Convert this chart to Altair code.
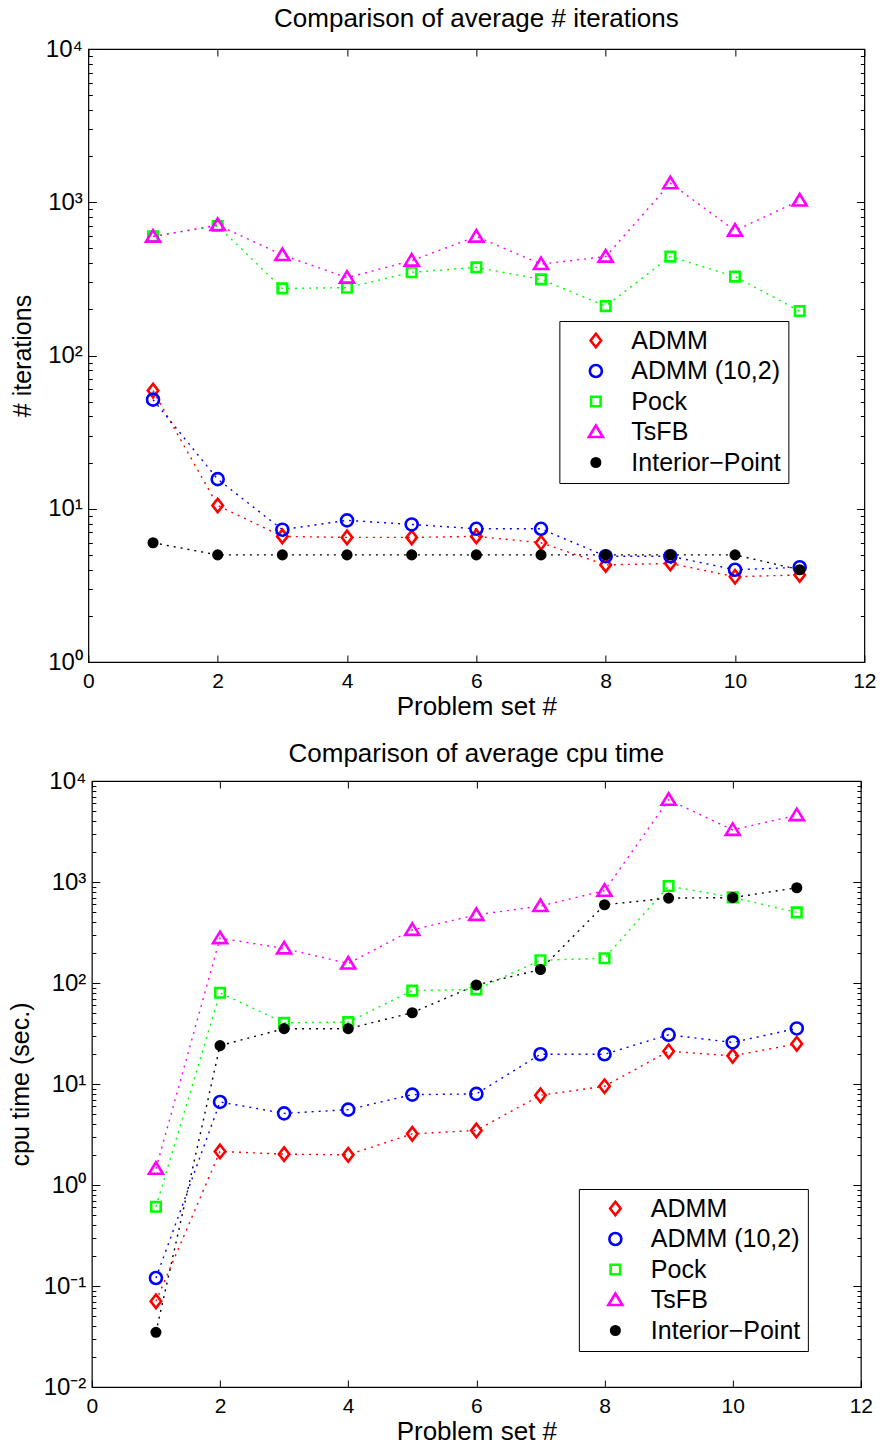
import math
import altair as alt
import pandas as pd

FONT = "Liberation Sans"

# ---------------- data ----------------
problem_set = [1, 2, 3, 4, 5, 6, 7, 8, 9, 10, 11]
series = ["ADMM", "ADMM (10,2)", "Pock", "TsFB", "Interior\u2212Point"]

iter_admm = [59, 10.5, 6.6, 6.5, 6.5, 6.6, 6.0, 4.3, 4.4, 3.6, 3.7]
iter_admm_10_2 = [51.5, 15.6, 7.3, 8.4, 7.9, 7.4, 7.4, 4.9, 4.9, 4.0, 4.15]
iter_pock = [600, 700, 274, 277, 349, 376, 314, 210, 442, 327, 195]
iter_tsfb = [597, 711, 453, 322, 416, 597, 395, 442, 1330, 653, 1026]
iter_ip = [6.0, 5.0, 5.0, 5.0, 5.0, 5.0, 5.0, 5.0, 5.0, 5.0, 4.0]

cpu_admm = [0.0706, 2.15, 2.02, 1.99, 3.21, 3.47, 7.73, 9.5, 21.1, 19.0, 25.0]
cpu_admm_10_2 = [0.12, 6.64, 5.12, 5.57, 7.85, 7.98, 19.7, 19.7, 30.7, 25.8, 35.5]
cpu_pock = [0.61, 80, 40.4, 41, 84, 86.5, 168, 176, 912, 705, 500]
cpu_tsfb = [1.45, 278, 220, 156, 336, 473, 578, 820, 6520, 3280, 4590]
cpu_ip = [0.0348, 24, 35.3, 35.3, 50.8, 95.5, 136, 595, 693, 700, 877]

x_ticks = [0, 2, 4, 6, 8, 10, 12]

# ---------------- styles ----------------
colors = ["#ff0000", "#0000ff", "#00ff00", "#ff00ff", "#000000"]
fills = ["transparent", "transparent", "transparent", "transparent", "#000000"]
shapes = [
    "M0,-1.35L1.05,0L0,1.35L-1.05,0Z",
    "M-1.2,0A1.2,1.2,0,1,0,1.2,0A1.2,1.2,0,1,0,-1.2,0Z",
    "M-0.95,-0.95L0.95,-0.95L0.95,0.95L-0.95,0.95Z",
    "M0,-1.3L1.4,1.0L-1.4,1.0Z",
    "M-0.85,0A0.85,0.85,0,1,0,0.85,0A0.85,0.85,0,1,0,-0.85,0Z",
]


def long_df(cols):
    rows = []
    for name, vals in zip(series, cols):
        for x, v in zip(problem_set, vals):
            rows.append({"x": x, "value": v, "series": name})
    return pd.DataFrame(rows)


IS_MAJOR = "abs(log(datum.value)/LN10 - round(log(datum.value)/LN10)) < 0.001"
SUP = "['\u207b\u00b2','\u207b\u00b9','\u2070','\u00b9','\u00b2','\u00b3','\u2074']"
Y_LABEL = f"{IS_MAJOR} ? '10' + {SUP}[round(log(datum.value)/LN10) + 2] : ''"
TICK_SIZE = {"condition": {"test": IS_MAJOR, "value": 8}, "value": 4}


def panel(df, title, ytitle, ymin, ymax, W, H, lx, ly, toff):
    e0 = round(math.log10(ymin))
    e1 = round(math.log10(ymax))
    yvals = [m * 10.0 ** e for e in range(e0, e1) for m in range(1, 10)] + [10.0 ** e1]
    xs = alt.Scale(domain=[0, 12], nice=False, zero=False)
    ys = alt.Scale(type="log", domain=[ymin, ymax], nice=False)
    # line colours: same mapping, domain listed in another order so that its
    # (hidden) legend is kept apart from the marker legend
    line_scale = alt.Scale(domain=series[::-1], range=colors[::-1])
    cscale = alt.Scale(domain=series, range=colors)
    fscale = alt.Scale(domain=series, range=fills)
    sscale = alt.Scale(domain=series, range=shapes)
    leg = alt.Legend(
        title=None, orient="none", legendX=lx, legendY=ly,
        labelFontSize=25, labelFont=FONT, labelColor="black",
        strokeColor="black", fillColor="white", padding=7, rowPadding=4.5,
        symbolOffset=17, labelOffset=23, symbolStrokeWidth=2.6, symbolSize=100,
        labelLimit=400,
    )
    base = alt.Chart(df)
    lines = base.mark_line(strokeDash=[2, 5], strokeWidth=1.4).encode(
        x=alt.X("x:Q", scale=xs, axis=alt.Axis(
            orient="bottom", values=x_ticks, title="Problem set #", ticks=False, tickSize=0,
            domain=False, grid=False, labelFontSize=21, labelPadding=8, labelFont=FONT,
            labelColor="black", titleFontSize=26, titleFont=FONT, titleFontWeight="normal",
            titleColor="black", titlePadding=2, labelFlush=False)),
        y=alt.Y("value:Q", scale=ys, axis=alt.Axis(
            orient="left", values=yvals, labelExpr=Y_LABEL, labelOverlap=False, title=ytitle,
            ticks=False, tickSize=0, domain=False, grid=False, labelFontSize=24,
            labelPadding=6, labelFont=FONT, labelColor="black", titleFontSize=25,
            titleFont=FONT, titleFontWeight="normal", titleColor="black", titlePadding=10)),
        color=alt.Color("series:N", scale=line_scale, legend=None),
        detail="series:N",
    )
    points = base.mark_point(filled=True, strokeWidth=2.6, opacity=1, size=100).encode(
        x=alt.X("x:Q", scale=xs, axis=alt.Axis(
            orient="top", offset=-H, values=x_ticks, labels=False, title=None, tickSize=7,
            tickColor="black", domain=False, grid=False)),
        y=alt.Y("value:Q", scale=ys, axis=alt.Axis(
            orient="right", offset=-W, values=yvals, labels=False, title=None,
            tickSize=TICK_SIZE, tickColor="black", domain=False, grid=False)),
        stroke=alt.Stroke("series:N", scale=cscale, legend=leg),
        fill=alt.Fill("series:N", scale=fscale, legend=leg),
        shape=alt.Shape("series:N", scale=sscale, legend=leg),
    )
    ticks2 = base.mark_point(opacity=0).encode(
        x=alt.X("x:Q", scale=xs, axis=alt.Axis(
            orient="bottom", offset=-H, values=x_ticks, labels=False, title=None, tickSize=7,
            tickColor="black", domain=False, grid=False)),
        y=alt.Y("value:Q", scale=ys, axis=alt.Axis(
            orient="left", offset=-W, values=yvals, labels=False, title=None,
            tickSize=TICK_SIZE, tickColor="black", domain=False, grid=False)),
    )
    return alt.layer(lines, points, ticks2).resolve_axis(
        x="independent", y="independent"
    ).properties(
        width=W, height=H,
        title=alt.Title(title, fontSize=26, fontWeight="normal", font=FONT, color="black", offset=toff),
    )


top = panel(long_df([iter_admm, iter_admm_10_2, iter_pock, iter_tsfb, iter_ip]),
            "Comparison of average # iterations", "# iterations", 1, 10000,
            776, 613, 471, 272, 5)
bottom = panel(long_df([cpu_admm, cpu_admm_10_2, cpu_pock, cpu_tsfb, cpu_ip]),
               "Comparison of average cpu time", "cpu time (sec.)", 0.01, 10000,
               769, 606, 487, 408, 2)

chart = alt.vconcat(top, bottom, spacing=20, center=True).resolve_scale(
    color="independent", stroke="independent", fill="independent", shape="independent"
).resolve_legend(
    color="independent", stroke="independent", fill="independent", shape="independent"
).configure(
    padding={"left": 7, "top": 5, "right": 5, "bottom": 5}, font=FONT
).configure_view(stroke="black", strokeWidth=1.2)

chart.save("out.html", embed_options={"renderer": "svg", "actions": False})
